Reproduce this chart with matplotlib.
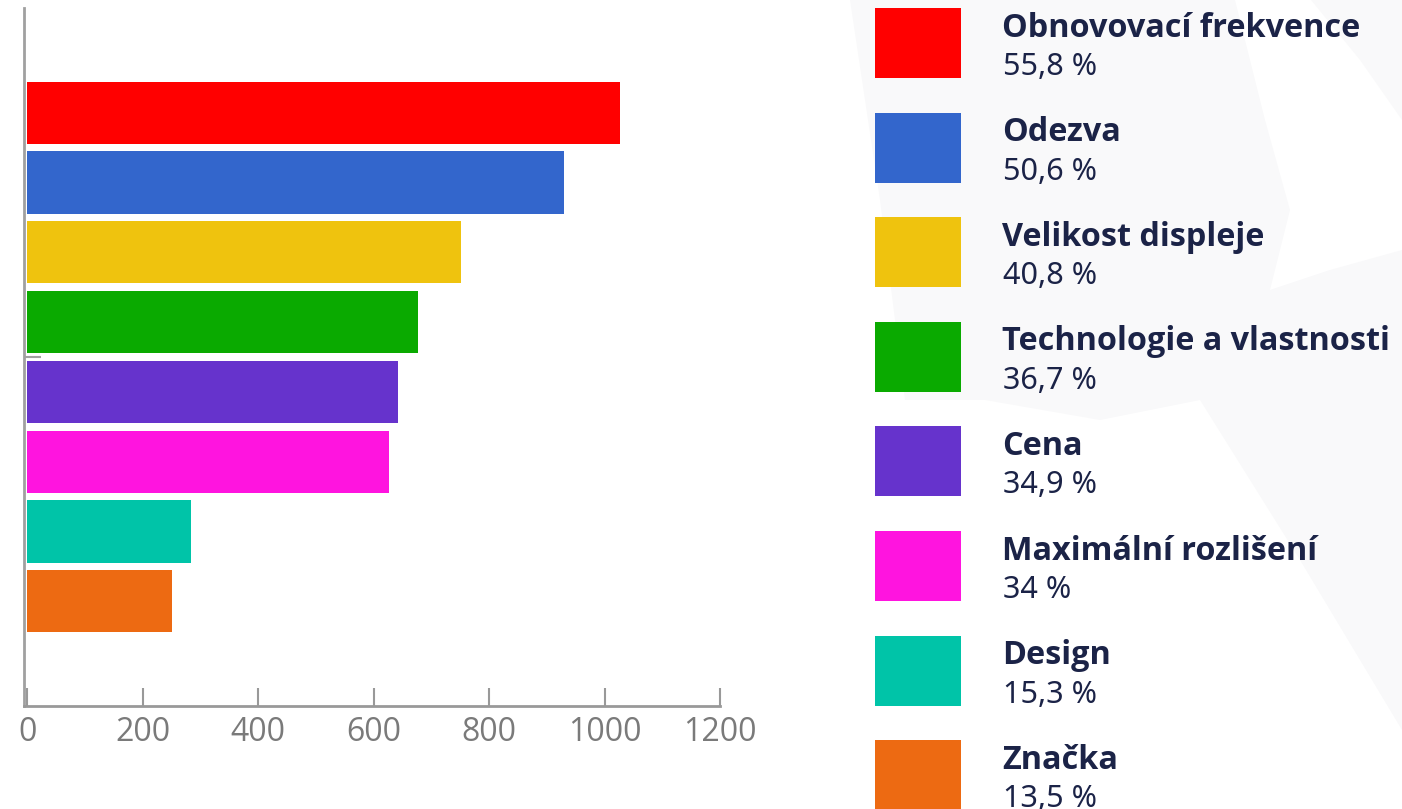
import matplotlib
matplotlib.use("Agg")
import matplotlib.pyplot as plt
from matplotlib.patches import Rectangle, Polygon

categories = ["Obnovovací frekvence", "Odezva", "Velikost displeje",
              "Technologie a vlastnosti", "Cena", "Maximální rozlišení",
              "Design", "Značka"]
values = [1026, 930, 751, 676, 642, 626, 283, 250]
percentages = [55.8, 50.6, 40.8, 36.7, 34.9, 34.0, 15.3, 13.5]
colors = ["#ff0000", "#3366cc", "#efc30e", "#0aaa00", "#6633cc",
          "#ff14df", "#00c4a8", "#ed6a12"]
xticks = [0, 200, 400, 600, 800, 1000, 1200]

W, H = 1402, 809
fig = plt.figure(figsize=(W / 100, H / 100), dpi=100)
fig.patch.set_facecolor("white")

# faint background watermark
bg = fig.add_axes([0, 0, 1, 1], zorder=0)
bg.set_xlim(0, W); bg.set_ylim(H, 0); bg.axis("off")
bg.add_patch(Polygon([(850, 0), (1235, 0), (1265, 120), (1290, 210), (1270, 290),
                      (1330, 270), (1402, 250), (1402, 730), (1300, 560),
                      (1200, 400), (1100, 420), (985, 400), (905, 400), (880, 200)],
                     closed=True, facecolor="#f9f9fa", edgecolor="none"))
bg.add_patch(Polygon([(1311, 0), (1402, 0), (1402, 120), (1360, 60)],
                     closed=True, facecolor="#f9f9fa", edgecolor="none"))

ax = fig.add_axes([24 / W, 103 / H, 696 / W, 698 / H], zorder=1)
ax.patch.set_alpha(0)
ypos = list(range(len(values)))
ax.barh(ypos, values, height=0.89, color=colors, left=0)
ax.set_ylim(8.5, -1.5)
ax.set_xlim(-6, 1200)
ax.spines["top"].set_visible(False)
ax.spines["right"].set_visible(False)
ax.spines["left"].set_color("#a0a0a0")
ax.spines["left"].set_linewidth(2)
ax.spines["bottom"].set_color("#999999")
ax.spines["bottom"].set_linewidth(2)
ax.spines["bottom"].set_bounds(-6, 1200)
ax.spines["left"].set_position(("data", -6))
ax.set_xticks(xticks)
ax.set_xticklabels([str(t) for t in xticks], fontsize=23, color="#7a7a7a",
                   family="Open Sans")
ax.tick_params(axis="x", direction="in", length=13, width=1.5, color="#999999", pad=7)
ax.set_yticks([3.5])
ax.set_yticklabels([""])
ax.tick_params(axis="y", direction="in", length=12, width=1.5, color="#a0a0a0")

# legend
leg = fig.add_axes([0, 0, 1, 1], zorder=2)
leg.set_xlim(0, W); leg.set_ylim(H, 0); leg.axis("off")
for i, (cat, pct, col) in enumerate(zip(categories, percentages, colors)):
    top = 8 + 104.6 * i
    leg.add_patch(Rectangle((875, top), 86, 70, facecolor=col, edgecolor="none"))
    leg.text(1002, top + 28.5, cat, fontsize=23.3, fontweight="bold", color="#1b2347",
             family="Open Sans", va="baseline", ha="left")
    ptxt = f"{pct:g}".replace(".", ",") + " %"
    leg.text(1003, top + 67, ptxt, fontsize=22, color="#1b2347",
             family="Noto Sans", va="baseline", ha="left")

fig.savefig("out.png", dpi=100, facecolor="white")
